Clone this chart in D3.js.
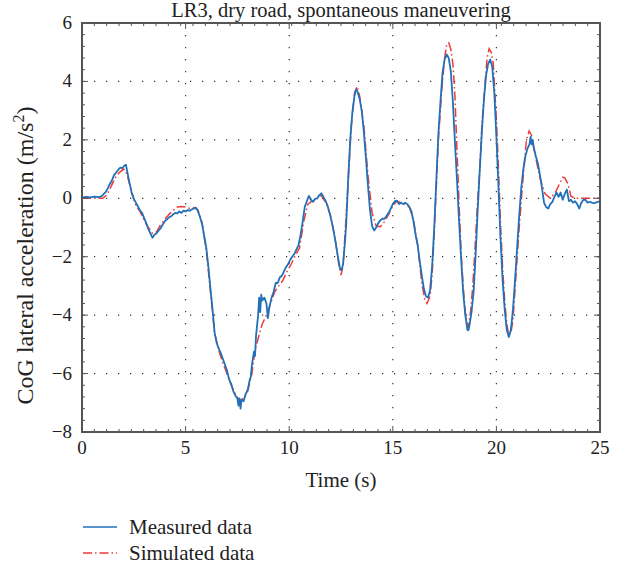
<!DOCTYPE html>
<html>
<head>
<meta charset="utf-8">
<script src="https://cdn.jsdelivr.net/npm/d3@7"></script>
<style>
  body { margin: 0; background: #fff; }
  text { font-family: "Liberation Serif", "DejaVu Serif", serif; fill: #222; }
</style>
</head>
<body>
<div id="chart"></div>
<script>
// measured data (time s, lateral acceleration m/s^2)
const measuredT = [0,0.2,0.4,0.6,0.8,0.95,1.05,1.15,1.25,1.35,1.45,1.55,1.65,1.75,1.85,1.95,2.05,2.12,2.2,2.3,2.4,2.5,2.6,2.7,2.8,2.9,3.0,3.1,3.2,3.3,3.4,3.5,3.6,3.7,3.8,3.9,4.0,4.1,4.2,4.3,4.4,4.5,4.6,4.7,4.8,4.9,5.0,5.1,5.2,5.3,5.4,5.5,5.6,5.7,5.8,5.9,6.0,6.1,6.2,6.3,6.4,6.5,6.6,6.7,6.8,6.9,7.0,7.1,7.2,7.3,7.4,7.5,7.55,7.6,7.65,7.7,7.8,7.9,8.0,8.1,8.15,8.2,8.3,8.35,8.4,8.5,8.55,8.6,8.65,8.7,8.8,8.9,8.97,9.05,9.15,9.25,9.35,9.45,9.55,9.65,9.75,9.85,9.95,10.05,10.15,10.25,10.35,10.45,10.55,10.65,10.75,10.85,10.95,11.05,11.15,11.25,11.35,11.45,11.55,11.65,11.75,11.85,11.95,12.05,12.15,12.25,12.35,12.45,12.53,12.6,12.68,12.75,12.85,12.95,13.05,13.15,13.22,13.3,13.4,13.5,13.6,13.7,13.8,13.9,14.0,14.1,14.2,14.3,14.4,14.5,14.6,14.7,14.8,14.9,15.0,15.1,15.2,15.3,15.4,15.5,15.6,15.7,15.8,15.9,16.0,16.1,16.2,16.3,16.4,16.5,16.6,16.7,16.8,16.9,17.0,17.1,17.2,17.3,17.4,17.5,17.6,17.7,17.8,17.9,18.0,18.1,18.2,18.3,18.4,18.5,18.6,18.65,18.7,18.8,18.9,19.0,19.1,19.2,19.3,19.4,19.5,19.6,19.7,19.8,19.9,20.0,20.1,20.2,20.3,20.4,20.5,20.6,20.7,20.8,20.9,21.0,21.1,21.2,21.3,21.4,21.5,21.6,21.65,21.7,21.75,21.8,21.9,22.0,22.1,22.2,22.3,22.4,22.5,22.6,22.7,22.8,22.9,23.0,23.1,23.2,23.3,23.4,23.5,23.6,23.7,23.8,23.9,24.0,24.1,24.2,24.3,24.4,24.5,24.6,24.7,24.8,24.9,25.0];
const measuredA = [0.02,0.05,0.03,0.06,0.04,0.07,0.15,0.22,0.35,0.5,0.62,0.8,0.88,0.98,1.05,1.03,1.12,1.15,0.85,0.5,0.18,-0.02,-0.15,-0.28,-0.42,-0.5,-0.68,-0.85,-1.05,-1.2,-1.35,-1.25,-1.2,-1.1,-1.02,-0.9,-0.78,-0.72,-0.65,-0.62,-0.55,-0.5,-0.52,-0.45,-0.5,-0.42,-0.45,-0.4,-0.43,-0.38,-0.35,-0.32,-0.45,-0.65,-0.9,-1.3,-1.7,-2.35,-3.1,-3.8,-4.6,-4.95,-5.15,-5.3,-5.5,-5.7,-5.9,-6.2,-6.35,-6.6,-6.75,-6.85,-7.1,-6.85,-7.2,-6.9,-6.95,-6.7,-6.55,-6.2,-6.1,-5.7,-5.25,-5.4,-4.7,-4.0,-3.4,-3.9,-3.3,-3.5,-3.4,-3.6,-4.1,-3.7,-3.4,-3.2,-2.9,-2.9,-2.7,-2.65,-2.5,-2.35,-2.25,-2.1,-2.0,-1.9,-1.75,-1.6,-1.25,-0.8,-0.3,-0.1,0.08,-0.05,-0.12,-0.02,0.0,0.1,0.17,0.05,-0.08,-0.25,-0.5,-0.8,-1.15,-1.55,-2.0,-2.4,-2.46,-2.25,-1.6,-0.9,0.7,2.05,2.95,3.5,3.72,3.65,3.4,3.0,2.3,1.4,0.45,-0.4,-0.95,-1.1,-1.0,-0.85,-0.75,-0.7,-0.7,-0.6,-0.5,-0.35,-0.2,-0.1,-0.08,-0.2,-0.15,-0.2,-0.15,-0.2,-0.3,-0.45,-0.8,-1.25,-1.6,-2.15,-2.65,-3.1,-3.35,-3.4,-3.15,-2.3,-1.0,0.6,2.2,3.3,4.3,4.75,4.92,4.8,4.35,3.3,1.9,0.6,-0.8,-2.1,-3.25,-4.0,-4.5,-4.52,-4.35,-3.9,-3.2,-1.9,-0.35,1.0,2.3,3.4,4.2,4.6,4.75,4.5,3.6,2.1,0.4,-1.4,-2.8,-3.8,-4.5,-4.75,-4.5,-3.8,-2.8,-1.7,-0.6,0.35,1.0,1.45,1.7,1.85,2.1,1.85,2.0,1.75,1.45,1.2,0.8,0.35,-0.15,-0.3,-0.35,-0.2,-0.12,0.05,0.2,0.05,0.2,-0.05,0.15,0.3,-0.1,-0.05,-0.15,-0.1,-0.2,-0.35,-0.15,-0.05,-0.05,-0.15,-0.12,-0.15,-0.17,-0.15,-0.12,-0.1];

// simulated data
const simulatedT = [0,1.0,1.2,1.4,1.6,1.8,2.0,2.1,2.2,2.4,2.6,2.8,3.0,3.2,3.4,3.6,3.8,4.0,4.2,4.4,4.6,4.8,5.0,5.2,5.4,5.6,5.8,6.0,6.2,6.4,6.6,6.8,7.0,7.2,7.4,7.6,7.8,8.0,8.2,8.35,8.5,8.7,8.9,9.1,9.3,9.5,9.7,9.9,10.1,10.3,10.5,10.7,10.9,11.1,11.3,11.5,11.6,11.8,12.0,12.2,12.4,12.5,12.6,12.8,13.0,13.15,13.28,13.4,13.6,13.8,14.0,14.2,14.4,14.6,14.8,15.0,15.2,15.4,15.6,15.8,16.0,16.2,16.4,16.55,16.65,16.8,16.9,17.0,17.1,17.2,17.35,17.5,17.6,17.7,17.8,17.9,18.0,18.1,18.2,18.3,18.4,18.5,18.6,18.65,18.75,18.85,18.95,19.1,19.2,19.3,19.45,19.55,19.65,19.75,19.85,20.0,20.1,20.2,20.3,20.4,20.5,20.6,20.7,20.8,20.95,21.1,21.3,21.45,21.58,21.7,21.85,22.1,22.35,22.6,22.85,23.05,23.2,23.3,23.45,23.6,23.85,25.0];
const simulatedA = [0,0,0.12,0.4,0.7,0.88,1.0,0.95,0.75,0.2,-0.25,-0.45,-0.75,-1.0,-1.2,-1.15,-0.9,-0.72,-0.55,-0.42,-0.3,-0.28,-0.3,-0.35,-0.32,-0.4,-0.85,-1.8,-3.2,-4.6,-5.2,-5.65,-6.0,-6.4,-6.7,-6.92,-6.85,-6.6,-6.0,-5.2,-4.8,-4.3,-4.0,-3.6,-3.2,-3.0,-2.8,-2.5,-2.25,-1.95,-1.7,-0.8,-0.2,-0.1,-0.05,0.1,0.05,-0.2,-0.6,-1.3,-2.3,-2.63,-2.3,0.0,2.5,3.6,3.83,3.5,2.5,0.8,-0.5,-0.95,-0.97,-0.8,-0.55,-0.25,-0.1,-0.15,-0.2,-0.3,-0.75,-1.6,-2.9,-3.5,-3.6,-3.35,-2.6,-1.2,0.4,2.0,3.6,4.8,5.26,5.32,5.1,4.6,3.5,1.6,-0.2,-1.9,-3.03,-3.9,-4.35,-4.4,-3.9,-3.1,-1.95,0.0,0.97,2.5,3.9,4.8,5.12,5.0,4.6,2.7,1.0,-0.9,-2.4,-3.5,-4.3,-4.7,-4.6,-4.17,-2.6,-1.0,0.8,2.0,2.3,2.15,1.55,0.7,0.15,0.0,0.2,0.5,0.72,0.7,0.5,0.06,0,0];

const xTicks = [0, 5, 10, 15, 20, 25];
const yTicks = [-8, -6, -4, -2, 0, 2, 4, 6];
const legendLabels = ["Measured data", "Simulated data"];

const W = 629, H = 569;
const margin = { top: 23, right: 29, bottom: 137, left: 82 };
const width = W - margin.left - margin.right,
      height = H - margin.top - margin.bottom;

const svg = d3.select("#chart").append("svg")
    .attr("width", W).attr("height", H);

const g = svg.append("g")
    .attr("transform", `translate(${margin.left},${margin.top})`);

const x = d3.scaleLinear().domain([0, 25]).range([0, width]);
const y = d3.scaleLinear().domain([-8, 6]).range([height, 0]);

// dotted grid
g.append("g").selectAll("line").data(xTicks.slice(1, -1)).join("line")
    .attr("x1", d => x(d)).attr("x2", d => x(d))
    .attr("y1", 0).attr("y2", height)
    .attr("stroke", "#333").attr("stroke-width", 1.2)
    .attr("stroke-dasharray", "1.2,10.8");
g.append("g").selectAll("line").data(yTicks.slice(1, -1)).join("line")
    .attr("y1", d => y(d)).attr("y2", d => y(d))
    .attr("x1", 0).attr("x2", width)
    .attr("stroke", "#333").attr("stroke-width", 1.2)
    .attr("stroke-dasharray", "1.2,10.8");

// data lines
const lineM = d3.line().x((d, i) => x(measuredT[i])).y(d => y(d));
const lineS = d3.line().x((d, i) => x(simulatedT[i])).y(d => y(d));

g.append("path").datum(simulatedA)
    .attr("d", lineS).attr("fill", "none")
    .attr("stroke", "#f03a3a").attr("stroke-width", 1.5)
    .attr("stroke-dasharray", "9,3,1.5,3");
g.append("path").datum(measuredA)
    .attr("d", lineM).attr("fill", "none")
    .attr("stroke", "#2170b8").attr("stroke-width", 1.8)
    .attr("stroke-linejoin", "round");

// axes: ticks inward on all sides
const minorX = d3.range(0, 25, 25 / 42);
const minorY = d3.range(-8, 6.001, 0.4);
const axisColor = "#555";

const ticks = g.append("g").attr("stroke", axisColor).attr("stroke-width", 1);
minorX.forEach(v => {
    ticks.append("line").attr("x1", x(v)).attr("x2", x(v)).attr("y1", height).attr("y2", height - 3);
    ticks.append("line").attr("x1", x(v)).attr("x2", x(v)).attr("y1", 0).attr("y2", 3);
});
xTicks.forEach(v => {
    ticks.append("line").attr("x1", x(v)).attr("x2", x(v)).attr("y1", height).attr("y2", height - 6);
    ticks.append("line").attr("x1", x(v)).attr("x2", x(v)).attr("y1", 0).attr("y2", 6);
});
minorY.forEach(v => {
    ticks.append("line").attr("y1", y(v)).attr("y2", y(v)).attr("x1", 0).attr("x2", 3);
    ticks.append("line").attr("y1", y(v)).attr("y2", y(v)).attr("x1", width).attr("x2", width - 3);
});
yTicks.forEach(v => {
    ticks.append("line").attr("y1", y(v)).attr("y2", y(v)).attr("x1", 0).attr("x2", 6);
    ticks.append("line").attr("y1", y(v)).attr("y2", y(v)).attr("x1", width).attr("x2", width - 6);
});

g.append("rect").attr("width", width).attr("height", height)
    .attr("fill", "none").attr("stroke", axisColor).attr("stroke-width", 2);

const fmt = d => d < 0 ? "\u2212" + Math.abs(d) : String(d);

g.append("g").selectAll("text").data(xTicks).join("text")
    .attr("x", d => x(d)).attr("y", height + 22)
    .attr("text-anchor", "middle").attr("font-size", 19)
    .text(fmt);
g.append("g").selectAll("text").data(yTicks).join("text")
    .attr("x", -10).attr("y", d => y(d) + 6)
    .attr("text-anchor", "end").attr("font-size", 19)
    .text(fmt);

// title and axis labels
g.append("text").attr("x", width / 2).attr("y", -6)
    .attr("text-anchor", "middle").attr("font-size", 20.5)
    .text("LR3, dry road, spontaneous maneuvering");
g.append("text").attr("x", width / 2).attr("y", height + 55)
    .attr("text-anchor", "middle").attr("font-size", 21)
    .text("Time (s)");
const yl = g.append("text")
    .attr("transform", `translate(-49,${height / 2 + 28}) rotate(-90)`)
    .attr("text-anchor", "middle").attr("font-size", 24);
yl.append("tspan").text("CoG lateral acceleration (m/s");
yl.append("tspan").attr("font-size", 16).attr("dy", -9).text("2");
yl.append("tspan").attr("dy", 9).text(")");

// legend
const legend = svg.append("g").attr("transform", "translate(83,527)");
const legendStyles = [
    { stroke: "#2170b8", dash: null },
    { stroke: "#f03a3a", dash: "9,3,1.5,3" }
];
legendLabels.forEach((label, i) => {
    const row = legend.append("g").attr("transform", `translate(0,${i * 26})`);
    row.append("line").attr("x1", 0).attr("x2", 34).attr("y1", 0).attr("y2", 0)
        .attr("stroke", legendStyles[i].stroke).attr("stroke-width", 1.5)
        .attr("stroke-dasharray", legendStyles[i].dash);
    row.append("text").attr("x", 46).attr("y", 7).attr("font-size", 21).text(label);
});
</script>
</body>
</html>
